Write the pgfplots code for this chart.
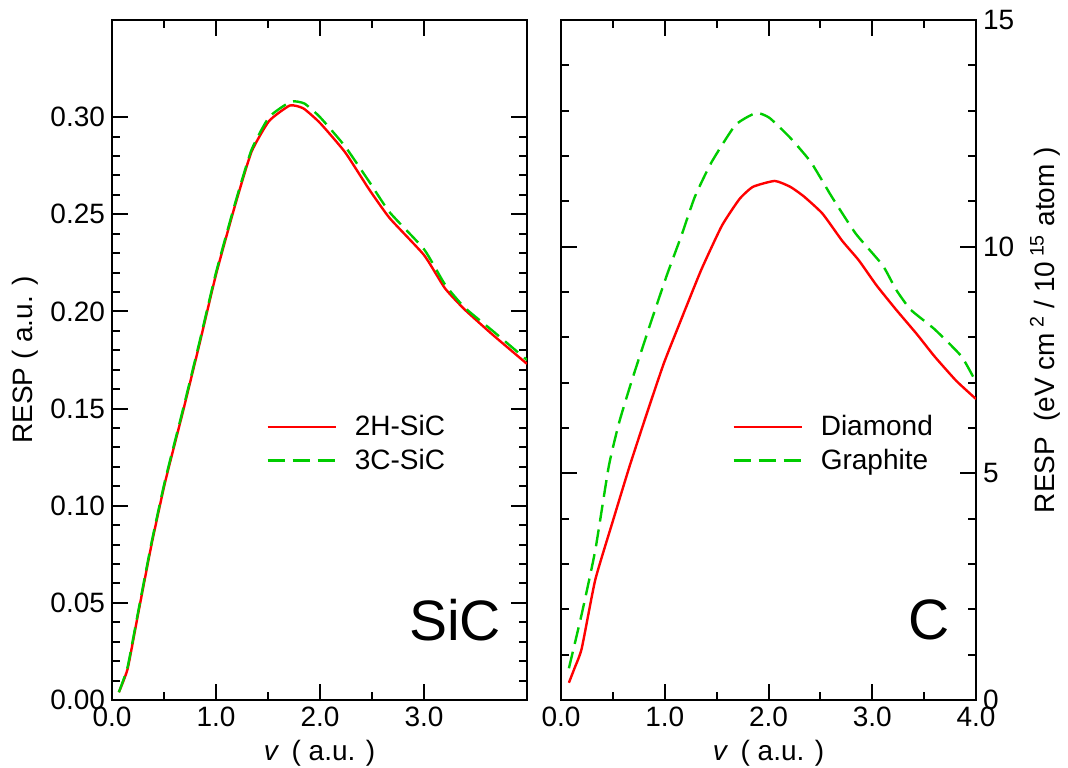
\documentclass[border=0pt]{standalone}
\usepackage{fontspec}
\setmainfont{Liberation Sans}
\usepackage{pgfplots}
\pgfplotsset{compat=1.18}
\usepackage{pgfplotstable}
\definecolor{myred}{RGB}{255,0,0}
\definecolor{mygreen}{RGB}{0,204,0}
\newcommand\fs{\fontsize{14}{16.8}\selectfont}

\pgfplotstableread{
x y
0.066 0.004
0.15 0.016
0.25 0.044
0.38 0.080
0.51 0.112
0.68 0.148
0.84 0.183
1.00 0.219
1.18 0.254
1.34 0.282
1.51 0.298
1.71 0.306
1.84 0.3045
2.00 0.297
2.24 0.282
2.47 0.263
2.67 0.248
3.00 0.229
3.20 0.212
3.39 0.201
3.66 0.188
3.99 0.173
}\sicTwoH

\pgfplotstableread{
x y
0.066 0.004
0.15 0.017
0.25 0.045
0.38 0.081
0.51 0.113
0.68 0.149
0.84 0.184
1.00 0.220
1.18 0.255
1.34 0.283
1.51 0.300
1.72 0.308
1.85 0.307
2.00 0.300
2.24 0.285
2.47 0.267
2.67 0.251
3.00 0.232
3.20 0.214
3.39 0.202
3.66 0.190
3.99 0.175
}\sicThreeC

\pgfplotstableread{
x y
0.076 0.38
0.13 0.70
0.20 1.14
0.33 2.65
0.50 3.95
0.66 5.15
0.83 6.34
0.99 7.42
1.14 8.29
1.35 9.48
1.55 10.46
1.72 11.05
1.85 11.32
2.06 11.45
2.21 11.32
2.34 11.11
2.52 10.73
2.71 10.13
2.87 9.70
3.04 9.15
3.23 8.61
3.43 8.07
3.60 7.58
3.81 7.04
4.00 6.64
}\diamond

\pgfplotstableread{
x y
0.076 0.70
0.20 1.90
0.33 3.30
0.46 5.15
0.56 6.12
0.69 7.10
0.86 8.29
1.02 9.37
1.16 10.24
1.29 11.10
1.45 11.86
1.68 12.68
1.88 12.95
2.01 12.84
2.21 12.40
2.41 11.86
2.61 11.10
2.84 10.29
3.10 9.59
3.23 9.05
3.37 8.61
3.60 8.18
3.86 7.58
4.00 7.01
}\graphite

\pgfplotsset{
  myaxis/.style={
    scale only axis,
    width=207.5pt, height=340pt,
    anchor=south west,
    axis line style={line width=1.2pt},
    tick style={line width=1pt, black},
    major tick length=8pt,
    minor tick length=4pt,
    tick label style={font=\fs},
    label style={font=\fs},
    /pgf/number format/assume math mode=true,
    xticklabel style={/pgf/number format/.cd, fixed, fixed zerofill, precision=1},
    minor x tick num=1,
    minor y tick num=4,
    legend style={draw=none, fill=none, font=\fs, inner sep=0pt, row sep=3pt,
      nodes={inner sep=1pt},
      /tikz/every odd column/.append style={column sep=8pt}},
    legend cell align=left,
    legend image code/.code={\draw[#1] (0pt,0pt) -- (34pt,0pt);},
    every axis plot/.append style={line width=1.2pt, smooth, tension=0.3},
    xlabel={\textit{v}\, ( a.u. )},
  }
}

\begin{document}
\begin{tikzpicture}
\path[use as bounding box] (0,0) rectangle (534pt,383.5pt);

\begin{axis}[myaxis,
  at={(56pt,33.5pt)},
  xmin=0, xmax=3.99, ymin=0, ymax=0.35,
  xtick={0,1,2,3},
  ytick={0,0.05,0.1,0.15,0.2,0.25,0.3},
  yticklabel style={/pgf/number format/.cd, fixed, fixed zerofill, precision=2},
  ylabel={RESP ( a.u. )},
  ylabel style={at={(axis description cs:-0.21,0.5)}, anchor=center},
  legend style={at={(axis description cs:0.371,0.422)}, anchor=north west},
]
\addplot[myred] table {\sicTwoH};
\addlegendentry{2H-SiC}
\addplot[mygreen, dash pattern=on 8.5pt off 4pt] table {\sicThreeC};
\addlegendentry{3C-SiC}
\node[font=\fontsize{28.5}{30}\selectfont] at (axis cs:3.30,0.041) {SiC};
\end{axis}

\begin{axis}[myaxis,
  at={(280.5pt,33.5pt)},
  xmin=0, xmax=4, ymin=0, ymax=15,
  xtick={0,1,2,3,4},
  ytick={0,5,10,15},
  yticklabel pos=right,
  ylabel={RESP\ \ (eV cm\,\textsuperscript{2}\ / 10\,\textsuperscript{15}\ atom )},
  ylabel style={at={(axis description cs:1.166,0.544)}, anchor=center, rotate=0},
  legend style={at={(axis description cs:0.412,0.422)}, anchor=north west},
]
\addplot[myred] table {\diamond};
\addlegendentry{Diamond}
\addplot[mygreen, dash pattern=on 8.5pt off 4pt] table {\graphite};
\addlegendentry{Graphite}
\node[font=\fontsize{28.5}{30}\selectfont] at (axis cs:3.55,1.76) {C};
\end{axis}
\end{tikzpicture}
\end{document}
